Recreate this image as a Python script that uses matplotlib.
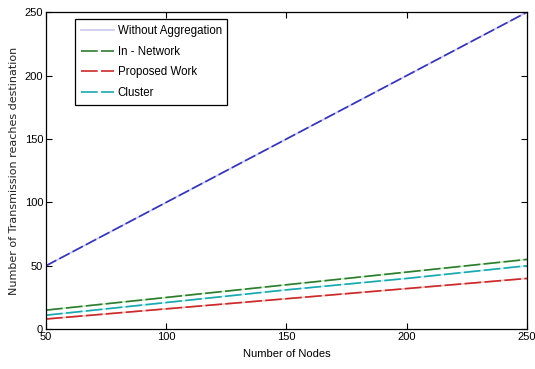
import matplotlib.pyplot as plt
from matplotlib import font_manager

# 데이터
nodes = [50, 100, 150, 200, 250]
without_agg = [50, 100, 150, 200, 250]
in_network = [15, 25, 35, 45, 55]
proposed = [8, 16, 24, 32, 40]
cluster = [11, 21, 31, 40, 50]

names = set(f.name for f in font_manager.fontManager.ttflist)
narrow = [n for n in ['Liberation Sans Narrow', 'Liberation Sans'] if n in names]
plt.rcParams['font.family'] = narrow + ['DejaVu Sans']

fig = plt.figure(figsize=(5.35, 3.69), dpi=100)
ax = fig.add_axes([0.086, 0.108, 0.899, 0.859])

# 밝은 실선 위에 진한 점선 (원본의 줄무늬 모양)
ax.plot(nodes, without_agg, color='#c8c8f0', lw=1.2, label='Without Aggregation')
ax.plot(nodes, without_agg, color='#3535b5', lw=1.2, ls=(0, (7, 2)))
ax.plot(nodes, in_network, color='#c8ecc8', lw=1.2)
ax.plot(nodes, in_network, color='#2e7d2e', lw=1.2, ls=(0, (10, 2)), label='In - Network')
ax.plot(nodes, proposed, color='#f4c0c0', lw=1.2)
ax.plot(nodes, proposed, color='#cc2a2a', lw=1.2, ls=(0, (10, 2)), label='Proposed Work')
ax.plot(nodes, cluster, color='#c0f0f0', lw=1.2)
ax.plot(nodes, cluster, color='#1aa8b0', lw=1.2, ls=(0, (10, 2)), label='Cluster')

ax.set_xlim(50, 250)
ax.set_ylim(0, 250)
ax.set_xticks([50, 100, 150, 200, 250])
ax.set_yticks([0, 50, 100, 150, 200, 250])
ax.tick_params(direction='in', top=True, right=True, labelsize=8, length=4, pad=2)
for s in ax.spines.values():
    s.set_linewidth(0.9)

ax.set_xlabel('Number of Nodes', fontsize=8, labelpad=5)
ax.set_ylabel('Number of Transmission reaches destination', fontsize=8,
              family='DejaVu Sans', color='#222222', labelpad=4)

leg = ax.legend(loc='upper left', bbox_to_anchor=(0.06, 0.978), borderaxespad=0,
                fontsize=8.3, handlelength=2.9, handletextpad=0.3, labelspacing=0.75,
                fancybox=False, edgecolor='black', framealpha=1, borderpad=0.5)
leg.get_frame().set_linewidth(0.9)

plt.savefig('out.png', dpi=100, facecolor='white')
plt.close()
